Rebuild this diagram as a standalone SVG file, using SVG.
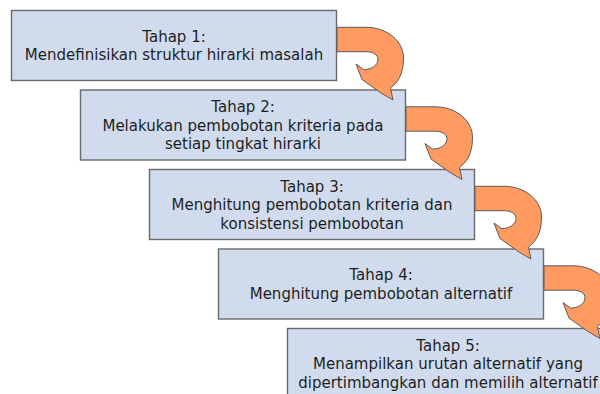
<svg xmlns="http://www.w3.org/2000/svg" xmlns:xlink="http://www.w3.org/1999/xlink" width="600" height="394" viewBox="0 0 600 394">
  <style>
    .box { fill: #D0DCED; stroke: #6A6A6A; stroke-width: 1.4; }
    .lbl { font-family: "DejaVu Sans", "Liberation Sans", sans-serif; font-size: 15px; fill: #1E1E1E; text-anchor: middle; }
    .arr { fill: #FF9B61; stroke: #5A5A5A; stroke-width: 1; stroke-linejoin: round; }
  </style>
  <defs>
    <path id="uturn" class="arr" d="M 337 27.3 L 366 27.3 C 387 27.3 403.5 41 403.5 58 C 403.5 70 400.5 77.5 395.5 83.5 L 390.5 88 L 393 100 L 381 93 L 362 79.5 L 356 64 L 363.5 69.5 C 371 70 378 65 378 59.5 C 378 54.5 373 51.7 366 51.7 L 337 51.7 Z"/>
  </defs>
  <rect width="600" height="394" fill="#FFFFFF"/>
  <g id="nodes">
    <g id="step1">
      <rect class="box" x="11.5" y="10.5" width="325" height="70"/>
      <text class="lbl" x="174" y="41.5">Tahap 1:</text>
      <text class="lbl" x="174" y="60">Mendefinisikan struktur hirarki masalah</text>
    </g>
    <g id="step2">
      <rect class="box" x="80.5" y="90" width="325" height="70"/>
      <text class="lbl" x="243" y="112">Tahap 2:</text>
      <text class="lbl" x="243" y="130.5">Melakukan pembobotan kriteria pada</text>
      <text class="lbl" x="243" y="149">setiap tingkat hirarki</text>
    </g>
    <g id="step3">
      <rect class="box" x="149.5" y="169.5" width="325" height="70"/>
      <text class="lbl" x="312" y="191.5">Tahap 3:</text>
      <text class="lbl" x="312" y="210">Menghitung pembobotan kriteria dan</text>
      <text class="lbl" x="312" y="228.5">konsistensi pembobotan</text>
    </g>
    <g id="step4">
      <rect class="box" x="218.5" y="249" width="325" height="70"/>
      <text class="lbl" x="381" y="280">Tahap 4:</text>
      <text class="lbl" x="381" y="298.5">Menghitung pembobotan alternatif</text>
    </g>
    <g id="step5">
      <rect class="box" x="287.5" y="328.5" width="325" height="70"/>
      <text class="lbl" x="448" y="350.5">Tahap 5:</text>
      <text class="lbl" x="448" y="369">Menampilkan urutan alternatif yang</text>
      <text class="lbl" x="448" y="387.5">dipertimbangkan dan memilih alternatif</text>
    </g>
  </g>
  <g id="connectors">
    <use xlink:href="#uturn" href="#uturn"/>
    <use xlink:href="#uturn" href="#uturn" transform="translate(69,79.5)"/>
    <use xlink:href="#uturn" href="#uturn" transform="translate(138,159)"/>
    <use xlink:href="#uturn" href="#uturn" transform="translate(207,238.5)"/>
  </g>
</svg>
